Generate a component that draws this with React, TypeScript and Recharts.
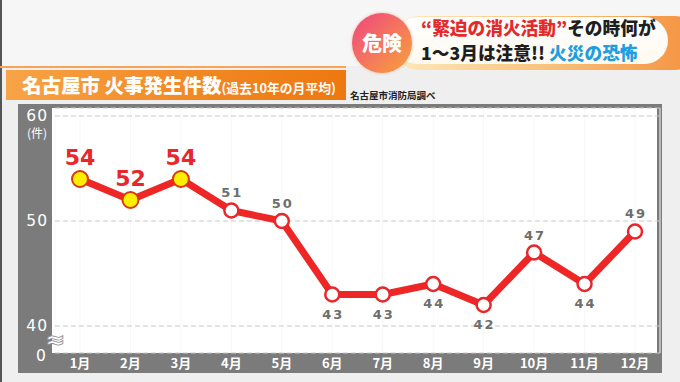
import React from "react";
import { LineChart, Line, XAxis, YAxis, CartesianGrid } from "recharts";

const months = ["1月", "2月", "3月", "4月", "5月", "6月", "7月", "8月", "9月", "10月", "11月", "12月"];
const fires = [54, 52, 54, 51, 50, 43, 43, 44, 42, 47, 44, 49];
const yTicks = [40, 50, 60];

const data = months.map((m, i) => ({ month: m, fires: fires[i] }));

const HIGHLIGHT_COUNT = 3;
const BELOW = new Set([5, 6, 7, 8, 10]);
const JP = '"Noto Sans CJK JP", "Noto Sans", sans-serif';
const NUM = '"DejaVu Sans", sans-serif';

const Dot = (props: any) => {
  const { cx, cy, index } = props;
  if (cx == null || cy == null) return null;
  if (index < HIGHLIGHT_COUNT) {
    return <circle key={index} cx={cx} cy={cy} r={8} fill="#ffee00" stroke="#d8380e" strokeWidth={2} />;
  }
  return <circle key={index} cx={cx} cy={cy} r={7} fill="#ffffff" stroke="#e8262b" strokeWidth={2.5} />;
};

const ValueLabel = (props: any) => {
  const { x, y, value, index } = props;
  if (index < HIGHLIGHT_COUNT) {
    return (
      <text x={x} y={y - 14} textAnchor="middle" fontFamily={NUM} fontWeight="bold" fontSize={22} fill="#e8262b">
        {value}
      </text>
    );
  }
  const below = BELOW.has(index);
  return (
    <text
      x={x + 1}
      y={below ? y + 24 : y - 13}
      textAnchor="middle"
      fontFamily={NUM}
      fontWeight="bold"
      fontSize={13}
      letterSpacing={2}
      fill="#6e6e6e"
    >
      {value}
    </text>
  );
};

const XTick = (props: any) => {
  const { x, y, payload } = props;
  return (
    <text x={x} y={y + 7} textAnchor="middle" fontFamily={JP} fontWeight="bold" fontSize={13} fill="#ffffff">
      {payload.value}
    </text>
  );
};

const YTick = (props: any) => {
  const { y, payload } = props;
  return (
    <g>
      <text x={48} y={y + 5} textAnchor="end" fontFamily={NUM} fontSize={15.5} letterSpacing={1} fill="#ffffff">
        {payload.value}
      </text>
      {payload.value === 60 && (
        <text x={37} y={y + 22} textAnchor="middle" fontFamily={JP} fontSize={12} fill="#ffffff">
          (件)
        </text>
      )}
    </g>
  );
};

export default function App() {
  return (
    <div
      style={{
        position: "absolute",
        left: 0,
        top: 0,
        width: 680,
        height: 382,
        overflow: "hidden",
        background: "#efefef",
        fontFamily: JP,
      }}
    >
      <div style={{ position: "absolute", left: 0, top: 0, width: 680, height: 66, background: "#f6f6f6" }} />
      <div style={{ position: "absolute", left: 0, top: 0, width: 2, height: 382, background: "#555" }} />

      {/* caption pill */}
      <div
        style={{
          position: "absolute",
          left: 392,
          top: 16,
          width: 310,
          height: 54,
          borderRadius: 27,
          background: "linear-gradient(90deg, #fdeabf 0%, #f9c27a 50%, #f4903e 100%)",
        }}
      />
      <div
        style={{
          position: "absolute",
          left: 394,
          top: 17,
          width: 274,
          height: 47,
          borderRadius: 24,
          background: "linear-gradient(180deg, #ffffff 0%, #fffaf0 100%)",
        }}
      />
      <div
        style={{
          position: "absolute",
          left: 352,
          top: 13,
          width: 60,
          height: 60,
          borderRadius: "50%",
          background: "linear-gradient(135deg, #f0457f 0%, #f47a5a 55%, #f7a23a 100%)",
          color: "#fff",
          fontWeight: 900,
          fontSize: 20,
          lineHeight: "60px",
          textAlign: "center",
          boxShadow: "0 0 3px rgba(240,120,80,0.5)",
        }}
      >
        危険
      </div>
      <div
        style={{
          position: "absolute",
          left: 421,
          top: 15,
          fontSize: 17.7,
          fontWeight: 900,
          lineHeight: "25px",
          whiteSpace: "nowrap",
          color: "#1e1e1e",
        }}
      >
        <div>
          <span style={{ color: "#e42a2a" }}>“緊迫の消火活動”</span>その時何が
        </div>
        <div>
          1〜3月は注意!! <span style={{ color: "#1d9ee0" }}>火災の恐怖</span>
        </div>
      </div>

      {/* title banner */}
      <div style={{ position: "absolute", left: 0, top: 66, width: 346, height: 2, background: "#f7a35a" }} />
      <div
        style={{
          position: "absolute",
          left: 6,
          top: 70,
          width: 340,
          height: 30,
          background: "linear-gradient(90deg, #f7a446 0%, #f28a26 50%, #ee7810 100%)",
        }}
      />
      <div
        style={{
          position: "absolute",
          left: 22,
          top: 70,
          height: 30,
          lineHeight: "30px",
          color: "#fff",
          fontWeight: 900,
          whiteSpace: "nowrap",
        }}
      >
        <span style={{ fontSize: 19.5 }}>名古屋市 火事発生件数</span>
        <span style={{ fontSize: 12.8, fontWeight: 700 }}>(過去10年の月平均)</span>
      </div>
      <div
        style={{
          position: "absolute",
          left: 350,
          top: 88,
          fontSize: 9.5,
          fontWeight: 700,
          color: "#222",
          whiteSpace: "nowrap",
        }}
      >
        名古屋市消防局調べ
      </div>

      {/* chart frame */}
      <div style={{ position: "absolute", left: 18, top: 104, width: 644, height: 269, background: "#7b7b7b" }} />
      <div style={{ position: "absolute", left: 52, top: 108, width: 605, height: 245, background: "#ffffff" }} />

      <div style={{ position: "absolute", left: 0, top: 0 }}>
        <LineChart width={680} height={382} data={data} margin={{ top: 108, right: 20, bottom: 0, left: 0 }}>
          <CartesianGrid horizontal={false} vertical={true} stroke="#f7f7f7" />
          <CartesianGrid vertical={false} stroke="#c9c9c9" strokeDasharray="5 3" />
          <XAxis
            dataKey="month"
            height={29}
            axisLine={false}
            tickLine={false}
            tick={<XTick />}
            interval={0}
            padding={{ left: 25, right: 25 }}
          />
          <YAxis
            width={55}
            domain={[37.43, 60.76]}
            ticks={yTicks}
            allowDataOverflow
            axisLine={false}
            tickLine={false}
            tick={<YTick />}
          />
          <Line
            type="linear"
            dataKey="fires"
            stroke="#ee2626"
            strokeWidth={7}
            strokeLinejoin="round"
            dot={Dot}
            activeDot={false}
            label={ValueLabel}
            isAnimationActive={false}
          />
        </LineChart>
      </div>

      <div
        style={{
          position: "absolute",
          left: 36,
          top: 348,
          fontFamily: NUM,
          fontSize: 15.5,
          color: "#fff",
          lineHeight: "16px",
        }}
      >
        0
      </div>
      <div
        style={{
          position: "absolute",
          left: 45,
          top: 333,
          fontFamily: NUM,
          fontSize: 24,
          fontWeight: "bold",
          color: "#ffffff",
          lineHeight: "14px",
          height: 14,
          WebkitTextStroke: "0.8px #8a8a8a",
        }}
      >
        ≈
      </div>
    </div>
  );
}
